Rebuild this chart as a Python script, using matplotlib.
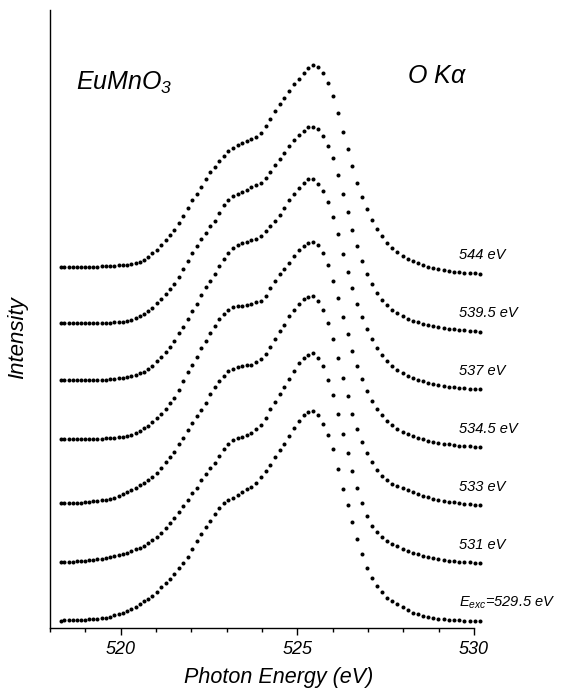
#!/usr/bin/env python
u"""
plot.py - O K-alpha emission spectra of EuMnO3 at several excitation energies
"""
#
# Imports
#
import matplotlib
matplotlib.use("Agg")
import matplotlib.pyplot as plt
from matplotlib.ticker import MultipleLocator
import numpy as np

#
# Data
#
energy = [518.30, 518.41, 518.53, 518.64, 518.76, 518.88, 518.99, 519.11, 519.22, 519.34,
          519.46, 519.58, 519.70, 519.82, 519.94, 520.06, 520.18, 520.30, 520.42, 520.54,
          520.66, 520.78, 520.90, 521.03, 521.15, 521.28, 521.40, 521.52, 521.65, 521.77,
          521.90, 522.03, 522.15, 522.28, 522.41, 522.54, 522.66, 522.79, 522.92, 523.05,
          523.18, 523.31, 523.44, 523.57, 523.70, 523.84, 523.97, 524.10, 524.23, 524.37,
          524.50, 524.63, 524.77, 524.90, 525.04, 525.18, 525.31, 525.45, 525.58, 525.72,
          525.86, 526.00, 526.14, 526.28, 526.42, 526.56, 526.70, 526.84, 526.98, 527.12,
          527.26, 527.40, 527.54, 527.69, 527.83, 527.98, 528.12, 528.26, 528.41, 528.55,
          528.70, 528.85, 528.99, 529.14, 529.29, 529.44, 529.58, 529.73, 529.88, 530.03,
          530.18]

# normalized intensities, one list per excitation energy
i_5295 = [.000, .001, .001, .002, .003, .004, .005, .006, .008, .010,
          .012, .015, .018, .025, .032, .039, .046, .056, .064, .078,
          .092, .106, .119, .138, .159, .181, .200, .222, .250, .277,
          .307, .343, .380, .415, .448, .478, .509, .537, .561, .576,
          .589, .603, .617, .632, .642, .661, .687, .717, .745, .784,
          .816, .846, .886, .922, .955, .983, .999, 1.004, .982, .943,
          .888, .820, .725, .632, .553, .474, .390, .318, .253, .204,
          .165, .135, .110, .093, .078, .064, .049, .037, .031, .024,
          .019, .014, .010, .007, .004, .002, .001, .000, .000, .000,
          .000]
i_531 = [.003, .004, .005, .006, .007, .008, .010, .012, .014, .017,
         .020, .024, .027, .031, .036, .042, .049, .057, .065, .073,
         .082, .095, .108, .126, .143, .168, .192, .216, .245, .270,
         .300, .333, .360, .395, .425, .456, .478, .512, .543, .570,
         .586, .599, .604, .614, .622, .640, .660, .695, .736, .772,
         .810, .843, .880, .918, .955, .980, .997, 1.005, .980, .940,
         .875, .805, .712, .618, .527, .442, .360, .285, .225, .178,
         .148, .126, .105, .089, .079, .068, .058, .049, .041, .035,
         .030, .025, .019, .014, .010, .007, .005, .003, .002, .001,
         .000]
i_533 = [.008, .008, .009, .010, .011, .012, .014, .016, .018, .020,
         .023, .026, .030, .036, .045, .054, .064, .073, .084, .096,
         .108, .121, .133, .154, .178, .205, .228, .255, .290, .322,
         .358, .392, .425, .454, .490, .530, .563, .596, .620, .642,
         .652, .660, .664, .668, .671, .684, .700, .725, .754, .795,
         .831, .862, .903, .935, .962, .985, .998, 1.000, .975, .935,
         .872, .795, .705, .610, .520, .438, .365, .302, .248, .204,
         .168, .140, .118, .101, .090, .080, .070, .063, .053, .045,
         .037, .031, .025, .021, .017, .013, .010, .007, .004, .002,
         .000]
i_5345 = [.040, .040, .040, .040, .040, .040, .040, .040, .040, .040,
          .041, .042, .043, .045, .047, .050, .054, .060, .069, .080,
          .090, .101, .119, .140, .159, .185, .211, .236, .275, .318,
          .358, .392, .431, .473, .510, .546, .578, .612, .638, .658,
          .669, .674, .677, .681, .685, .694, .700, .725, .762, .797,
          .827, .851, .880, .915, .945, .963, .975, .984, .968, .930,
          .870, .797, .715, .625, .540, .460, .388, .325, .270, .223,
          .185, .153, .127, .105, .088, .074, .062, .053, .045, .038,
          .032, .027, .022, .018, .014, .011, .008, .006, .004, .002,
          .000]
i_537 = [.045, .045, .045, .045, .045, .045, .045, .045, .045, .045,
         .046, .047, .049, .051, .054, .057, .061, .065, .070, .077,
         .085, .096, .113, .134, .153, .178, .203, .232, .270, .300,
         .337, .376, .410, .450, .488, .521, .553, .592, .625, .652,
         .676, .690, .700, .707, .713, .721, .734, .757, .782, .806,
         .835, .870, .905, .935, .965, .990, 1.005, 1.006, .985, .948,
         .896, .827, .745, .648, .563, .485, .410, .345, .290, .240,
         .198, .164, .136, .112, .094, .078, .065, .056, .047, .039,
         .032, .027, .022, .018, .014, .011, .008, .006, .004, .002,
         .000]
i_5395 = [.040, .040, .040, .040, .040, .040, .040, .040, .040, .040,
          .041, .042, .043, .044, .046, .048, .051, .055, .064, .076,
          .086, .101, .114, .136, .154, .180, .203, .227, .262, .298,
          .337, .378, .412, .441, .473, .504, .530, .566, .604, .631,
          .650, .660, .667, .679, .692, .703, .712, .736, .766, .797,
          .826, .855, .886, .917, .942, .960, .977, .981, .968, .937,
          .890, .829, .749, .657, .572, .487, .410, .339, .277, .226,
          .186, .152, .126, .104, .088, .074, .062, .053, .045, .038,
          .032, .027, .022, .018, .014, .011, .008, .006, .004, .002,
          .000]
i_544 = [.035, .035, .035, .035, .035, .035, .035, .035, .035, .035,
         .036, .037, .038, .039, .040, .042, .043, .046, .051, .058,
         .066, .080, .098, .116, .137, .162, .186, .211, .245, .279,
         .316, .354, .383, .414, .452, .486, .510, .541, .565, .587,
         .604, .617, .627, .636, .644, .656, .674, .708, .743, .778,
         .812, .842, .874, .906, .934, .962, .985, 1.000, .990, .962,
         .914, .850, .770, .679, .595, .514, .436, .369, .311, .259,
         .215, .180, .149, .123, .104, .086, .072, .062, .051, .042,
         .034, .029, .024, .019, .015, .011, .008, .006, .004, .002,
         .000]

spectra = [i_5295, i_531, i_533, i_5345, i_537, i_5395, i_544]
exc_labels = [r"$E_{exc}$=529.5 eV", "531 eV", "533 eV", "534.5 eV",
              "537 eV", "539.5 eV", "544 eV"]

#
# Style
#
plt.rcParams['font.family'] = ['Liberation Sans', 'DejaVu Sans']
plt.rcParams['mathtext.fontset'] = 'custom'
plt.rcParams['mathtext.it'] = 'Liberation Sans:italic'
plt.rcParams['mathtext.rm'] = 'Liberation Sans:italic'

#
# Plot
#
fig = plt.figure(figsize=(5.63, 6.90), dpi=100)
ax = fig.add_axes([50/563, 1 - 627.5/690, 424/563, 617.5/690])

step = 0.2766   # vertical offset between spectra
for n, (spec, lbl) in enumerate(zip(spectra, exc_labels)):
    y = np.array(spec) + n*step
    ax.plot(energy, y, 'o', ms=2.9, color='black', mec='none', clip_on=False)
    ax.text(529.58, n*step + 0.088, lbl, fontsize=10.5, style='italic',
            ha='left', va='center', clip_on=False)

ax.set_xlim(518, 530)
ax.set_ylim(-0.0325, 2.922)

# Axes
ax.spines['top'].set_visible(False)
ax.spines['right'].set_visible(False)
ax.spines['left'].set_linewidth(1.0)
ax.spines['bottom'].set_linewidth(1.0)
ax.set_yticks([])
ax.xaxis.set_major_locator(MultipleLocator(5))
ax.xaxis.set_minor_locator(MultipleLocator(1))
ax.tick_params(axis='x', which='major', direction='out', length=5, width=1, labelsize=13, pad=5)
ax.tick_params(axis='x', which='minor', direction='out', length=3, width=1)
for t in ax.get_xticklabels():
    t.set_style('italic')

# Titles
ax.text(518.74, 2.539, r"EuMnO$_3$", fontsize=18, style='italic', va='baseline')
ax.text(528.10, 2.573, r"O K$\alpha$", fontsize=18, style='italic', va='baseline')
fig.text(18/563, 1 - 338/690, "Intensity", fontsize=16, style='italic',
         rotation=90, ha='center', va='center')
fig.text(279/563, 1 - 667/690, "Photon Energy (eV)", fontsize=15.5, style='italic',
         ha='center', va='top')

fig.savefig("out.png", dpi=100)
